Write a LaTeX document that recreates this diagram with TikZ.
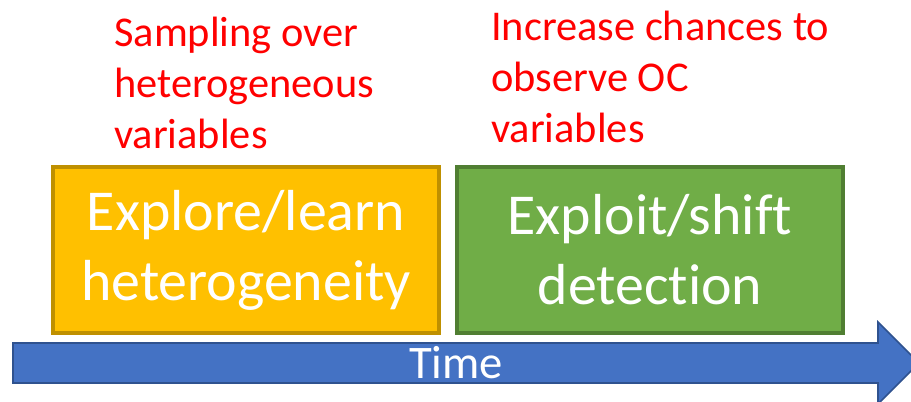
\documentclass[tikz,border=0pt]{standalone}
\usepackage{fontspec}
\setmainfont[Ligatures={NoCommon,NoRare,NoContextual}]{Carlito}
\definecolor{ygold}{HTML}{FFC000}
\definecolor{ygoldline}{HTML}{BF9000}
\definecolor{ggreen}{HTML}{70AD47}
\definecolor{ggreenline}{HTML}{507E32}
\definecolor{tblue}{HTML}{4472C4}
\definecolor{tblueline}{HTML}{2F528F}
\definecolor{note}{HTML}{FF0000}
\newlength{\pxu}
\setlength{\pxu}{0.75pt}
\tikzset{
  phasebox/.style={rectangle, line width=2.4pt, minimum width=386\pxu, minimum height=166\pxu,
    inner sep=0pt, text=white, align=center,
    font=\fontsize{43.4}{52.5}\selectfont},
  notetext/.style={text=note, align=left, inner sep=0pt, anchor=north west,
    font=\fontsize{31.8}{38}\selectfont},
  timearrow/.style={fill=tblue, draw=tblueline, line width=1.2pt},
  timetext/.style={text=white, inner sep=0pt, font=\fontsize{35}{40}\selectfont}
}
\begin{document}
\begin{tikzpicture}[x=0.75pt,y=-0.75pt]
\useasboundingbox (0,0) rectangle (911,401);
\clip (0,0) rectangle (911,401);
\fill[white] (0,0) rectangle (911,401);
\draw[timearrow] (13,343) -- (878,343) -- (878,322) -- (919,363) -- (878,404) -- (878,383) -- (13,383) -- cycle;
\node[timetext, anchor=base] (time) at (456,378) {Time};
\node[phasebox, fill=ygold, draw=ygoldline] (explore) at (246,250) {Explore/learn\\heterogeneity};
\node[phasebox, fill=ggreen, draw=ggreenline] (exploit) at (650,250) {Exploit/shift\\detection};
\node[notetext] (sampling) at (114,17) {Sampling over\\heterogeneous\\variables};
\node[notetext] (increase) at (491,11) {Increase chances to\\observe OC\\variables};
\end{tikzpicture}
\end{document}
